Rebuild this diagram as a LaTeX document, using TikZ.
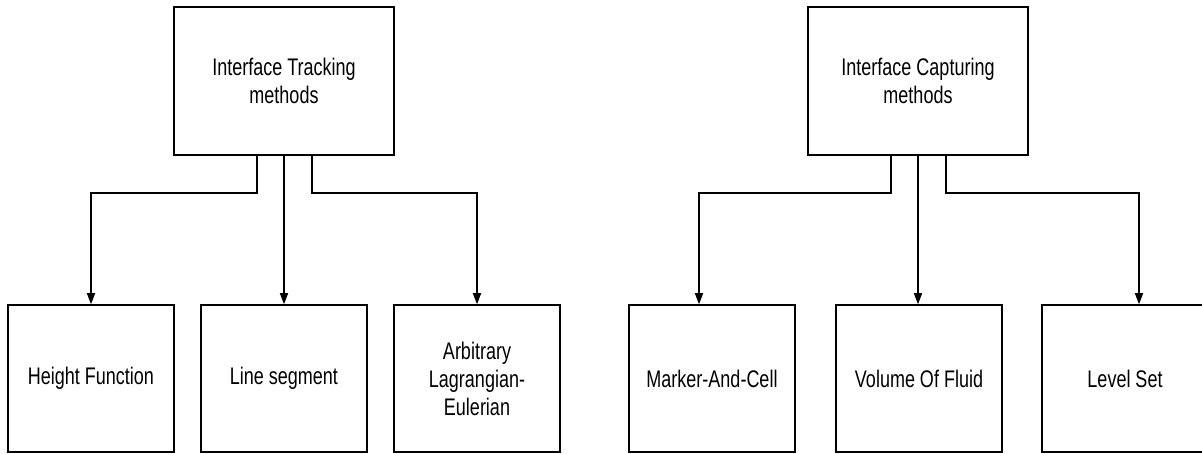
\documentclass[tikz,border=0pt]{standalone}
\usepackage{fontspec}
\newfontfamily\lsn[FakeStretch=0.75]{Liberation Sans}
\usetikzlibrary{arrows.meta}
\begin{document}
\begin{tikzpicture}[x=1pt,y=-1pt,
  box/.style={draw=black, line width=1.5pt, rectangle, inner sep=0pt, align=center,
    font=\lsn\fontsize{24}{28}\selectfont},
  topbox/.style={box, minimum width=220pt, minimum height=148pt},
  leafbox/.style={box, minimum width=166pt, minimum height=147pt},
  conn/.style={draw=black, line width=1.5pt, -{Triangle[length=11pt,width=8pt]}},
  plain/.style={draw=black, line width=1.5pt}]
\useasboundingbox (0,0) rectangle (1202,454);
\clip (0,0) rectangle (1202,454);
\node[topbox] (t1) at (284,81) {Interface Tracking\\methods};
\node[topbox] (t2) at (918,81) {Interface Capturing\\methods};
\node[leafbox] (b1) at (91,378.5) {Height Function};
\node[leafbox] (b2) at (284,378.5) {Line segment};
\node[leafbox] (b3) at (477,378.5) {Arbitrary\\Lagrangian-\\Eulerian};
\node[leafbox] (b4) at (712,378.5) {Marker-And-Cell};
\node[leafbox] (b5) at (919,378.5) {Volume Of Fluid};
\node[leafbox] (b6) at (1125,378.5) {Level Set};
\coordinate (j1) at (91,193);
\coordinate (j3) at (477,193);
\coordinate (j4) at (699,193);
\coordinate (j6) at (1139,193);
\draw[conn] (t1.south -| 257,0) |- (j1) -- (b1.north);
\draw[conn] (t1.south) -- (b2.north);
\draw[conn] (t1.south -| 312,0) |- (j3) -- (b3.north);
\draw[conn] (t2.south -| 891,0) |- (j4) -- (b4.north -| j4);
\draw[conn] (t2.south) -- (b5.north -| t2.south);
\draw[conn] (t2.south -| 946,0) |- (j6) -- (b6.north -| j6);
\end{tikzpicture}
\end{document}
